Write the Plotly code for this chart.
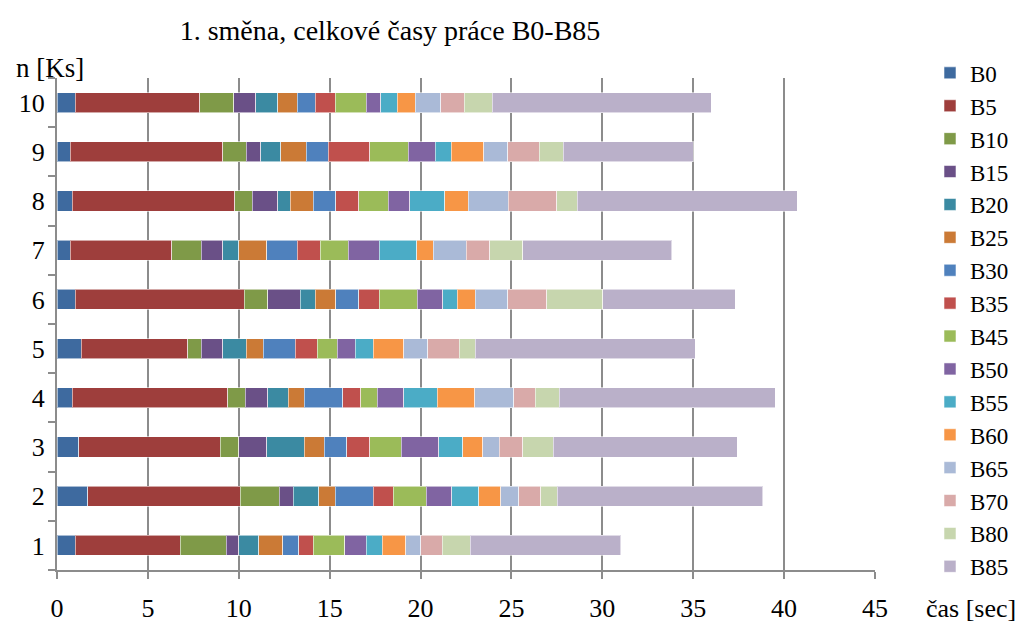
import plotly.graph_objects as go

# Inspection counts 1..10 (y axis) and per-operation times in seconds
categories = ["1", "2", "3", "4", "5", "6", "7", "8", "9", "10"]
series_names = ["B0", "B5", "B10", "B15", "B20", "B25", "B30", "B35",
                "B45", "B50", "B55", "B60", "B65", "B70", "B80", "B85"]

B0 = [1.0, 1.7, 1.2, 0.83, 1.33, 1.0, 0.72, 0.83, 0.72, 1.0]
B5 = [5.79, 8.39, 7.79, 8.57, 5.85, 9.31, 5.60, 8.95, 8.40, 6.84]
B10 = [2.51, 2.13, 1.01, 0.95, 0.75, 1.29, 1.61, 0.95, 1.30, 1.87]
B15 = [0.70, 0.79, 1.54, 1.25, 1.19, 1.79, 1.19, 1.42, 0.79, 1.23]
B20 = [1.10, 1.39, 2.07, 1.13, 1.28, 0.81, 0.88, 0.68, 1.10, 1.21]
B25 = [1.32, 0.92, 1.09, 0.88, 0.94, 1.14, 1.54, 1.28, 1.41, 1.08]
B30 = [0.88, 2.09, 1.24, 2.11, 1.78, 1.26, 1.67, 1.23, 1.20, 0.97]
B35 = [0.81, 1.08, 1.27, 0.99, 1.19, 1.12, 1.28, 1.26, 2.29, 1.12]
B45 = [1.72, 1.83, 1.74, 0.92, 1.10, 2.11, 1.53, 1.63, 2.12, 1.70]
B50 = [1.19, 1.40, 2.05, 1.45, 1.01, 1.39, 1.70, 1.18, 1.49, 0.79]
B55 = [0.88, 1.48, 1.32, 1.85, 0.99, 0.81, 2.07, 1.92, 0.88, 0.90]
B60 = [1.29, 1.21, 1.10, 2.05, 1.67, 0.97, 0.92, 1.29, 1.78, 0.99]
B65 = [0.82, 0.99, 0.90, 2.15, 1.32, 1.80, 1.81, 2.20, 1.32, 1.41]
B70 = [1.19, 1.21, 1.30, 1.19, 1.72, 2.13, 1.29, 2.67, 1.72, 1.30]
B80 = [1.53, 0.90, 1.69, 1.32, 0.90, 3.09, 1.81, 1.12, 1.32, 1.53]
B85 = [8.27, 11.31, 10.10, 11.88, 12.10, 7.28, 8.20, 12.10, 7.17, 12.06]

x_ticks = [0, 5, 10, 15, 20, 25, 30, 35, 40, 45]

values = [B0, B5, B10, B15, B20, B25, B30, B35,
          B45, B50, B55, B60, B65, B70, B80, B85]
colors = ["#3E6A9F", "#9E3E3C", "#7F9A48", "#6A5087", "#3B8AA2", "#CB7A36",
          "#4F81BD", "#C0504D", "#9BBB59", "#8064A2", "#4BACC6", "#F79646",
          "#AABAD7", "#D9AAA9", "#C7D6AE", "#BAB0C9"]

SERIF = "Liberation Serif, Times New Roman, serif"

fig = go.Figure()
for name, vals, col in zip(series_names, values, colors):
    fig.add_trace(go.Bar(
        name=name, y=categories, x=vals, orientation="h",
        marker=dict(color=col, line=dict(color="rgba(255,255,255,0.55)", width=1)),
    ))

fig.update_layout(
    width=1025, height=626,
    barmode="stack", bargap=0.59,
    plot_bgcolor="white", paper_bgcolor="white",
    margin=dict(l=57, r=150, t=78, b=56),
    font=dict(family=SERIF, size=25, color="black"),
    title=dict(text="1. směna, celkové časy práce B0-B85",
               x=0.3805, xanchor="center", xref="container",
               y=1 - 30 / 626, yanchor="middle", yref="container",
               font=dict(family=SERIF, size=28, color="black")),
    legend=dict(x=930 / 1025, xanchor="left", xref="container",
                y=0.489, yanchor="middle", yref="container",
                traceorder="normal", font=dict(family=SERIF, size=23),
                itemwidth=30, bgcolor="rgba(0,0,0,0)", maxheight=620),
    showlegend=True,
)

fig.update_xaxes(
    range=[0, 45], tickvals=x_ticks, ticktext=[str(t) for t in x_ticks],
    showgrid=True, gridcolor="#8C8C8C", gridwidth=2,
    showline=True, linecolor="#8C8C8C", linewidth=2,
    ticks="outside", ticklen=7, tickcolor="#8C8C8C", tickwidth=2,
    ticklabelstandoff=7, zeroline=False, automargin=False,
    tickfont=dict(family=SERIF, size=26),
)
fig.update_yaxes(
    type="category", categoryorder="array", categoryarray=categories,
    showgrid=False, showline=True, linecolor="#8C8C8C", linewidth=2,
    ticks="outside", tickson="boundaries", ticklen=7, tickcolor="#8C8C8C", tickwidth=2,
    ticklabelstandoff=5, automargin=False,
    tickfont=dict(family=SERIF, size=26),
)

fig.add_annotation(text="n [Ks]", xref="paper", yref="paper", x=-0.052, y=1 + 10 / 492,
                   xanchor="left", yanchor="middle", showarrow=False,
                   font=dict(family=SERIF, size=27))
fig.add_annotation(text="čas [sec]", xref="paper", yref="paper", x=1.06, y=-38 / 492,
                   xanchor="left", yanchor="middle", showarrow=False,
                   font=dict(family=SERIF, size=26))

fig.write_html("out.html")
